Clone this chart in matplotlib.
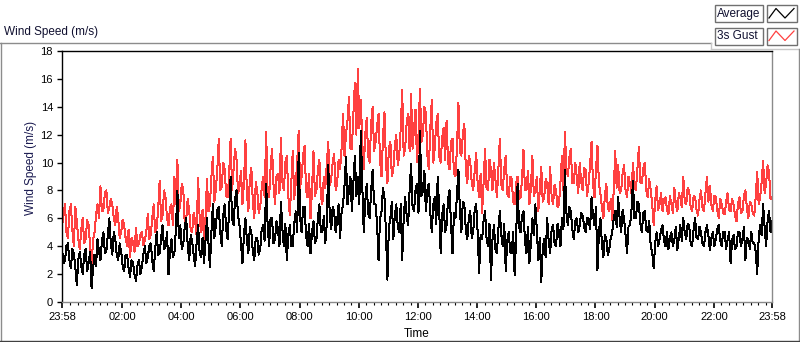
import numpy as np
import matplotlib
matplotlib.use('Agg')
import matplotlib.pyplot as plt
from matplotlib.lines import Line2D
from matplotlib.patches import Rectangle

# ---------------- data (3-minute samples from 23:58 to 23:58) ----------------
sample_minutes = 3

gust = [5.5, 6.2, 7.0, 5.0, 4.6, 6.5, 7.0, 5.2, 4.0, 6.8,
        5.8, 4.5, 3.8, 5.2, 6.0, 4.2, 4.5, 5.9, 5.5, 4.0,
        2.6, 4.5, 5.0, 6.2, 7.0, 6.0, 8.3, 6.5, 6.6, 7.8,
        8.0, 6.4, 6.8, 7.4, 7.0, 6.0, 5.5, 6.8, 6.0, 4.6,
        5.0, 5.9, 5.5, 4.6, 4.0, 5.2, 3.2, 4.6, 4.3, 3.6,
        5.3, 4.0, 4.2, 4.8, 5.0, 4.1, 4.4, 5.0, 6.3, 4.5,
        4.8, 6.0, 7.0, 5.0, 5.3, 6.6, 8.7, 5.8, 6.2, 8.0,
        7.5, 6.0, 5.5, 6.8, 7.0, 5.5, 9.0, 7.0, 10.2, 6.5,
        7.0, 8.5, 8.1, 5.5, 6.0, 7.4, 6.5, 5.2, 5.0, 6.4,
        5.8, 4.8, 8.9, 6.2, 5.0, 6.6, 4.4, 6.0, 8.8, 6.5,
        7.0, 9.0, 10.4, 7.2, 8.0, 9.5, 11.7, 8.0, 8.3, 10.0,
        9.5, 7.6, 7.5, 9.2, 11.7, 8.0, 9.5, 11.0, 10.2, 7.8,
        8.3, 9.4, 7.0, 8.5, 11.6, 7.8, 6.5, 8.8, 9.6, 7.2,
        6.0, 8.6, 8.0, 6.4, 6.8, 8.2, 9.0, 7.5, 12.2, 8.0,
        7.5, 9.6, 11.0, 8.4, 7.0, 9.0, 9.2, 7.8, 11.8, 8.6,
        8.0, 10.0, 10.5, 7.6, 6.2, 8.5, 10.8, 7.4, 8.5, 10.0,
        12.3, 8.2, 9.0, 10.5, 11.2, 8.0, 7.5, 9.2, 6.0, 8.0,
        10.8, 7.6, 8.0, 9.5, 10.2, 7.6, 7.0, 9.0, 8.2, 9.8,
        11.5, 8.4, 8.8, 10.0, 10.6, 8.0, 8.5, 10.2, 9.5, 11.0,
        13.5, 10.5, 12.0, 13.0, 14.7, 11.0, 11.0, 13.5, 15.7, 12.0,
        16.7, 12.5, 14.5, 11.5, 9.5, 12.0, 13.2, 10.5, 10.0, 12.8,
        14.0, 10.8, 11.5, 12.6, 13.5, 10.2, 9.0, 11.8, 13.6, 10.0,
        8.5, 11.0, 11.5, 9.0, 9.5, 11.2, 12.0, 9.8, 10.5, 12.5,
        15.2, 10.5, 11.0, 12.8, 13.5, 10.8, 14.9, 11.0, 12.5, 13.8,
        10.0, 12.0, 15.3, 11.5, 12.0, 14.0, 13.5, 10.5, 9.5, 12.5,
        14.5, 10.0, 11.0, 12.8, 13.5, 10.5, 10.0, 11.8, 12.5, 10.2,
        13.0, 10.0, 9.5, 11.5, 11.7, 9.2, 9.0, 11.0, 14.3, 10.8,
        10.5, 12.0, 12.8, 9.5, 8.5, 10.5, 10.0, 8.6, 8.0, 9.4,
        10.7, 8.5, 7.5, 9.2, 6.4, 8.5, 11.0, 8.2, 8.0, 10.2,
        9.5, 8.0, 10.0, 8.8, 7.5, 9.5, 11.7, 8.4, 8.0, 9.6,
        10.5, 7.8, 7.5, 9.0, 8.8, 7.2, 7.0, 8.5, 9.0, 7.4,
        7.5, 8.8, 10.9, 8.0, 8.0, 9.4, 7.0, 8.2, 10.5, 7.6,
        8.0, 9.0, 6.5, 8.0, 9.7, 7.2, 7.5, 8.8, 8.5, 7.0,
        9.7, 7.6, 7.0, 8.4, 8.0, 6.8, 7.0, 8.6, 10.5, 8.0,
        12.2, 9.5, 9.0, 10.4, 11.0, 8.5, 8.5, 10.0, 9.0, 7.8,
        10.0, 8.6, 8.0, 9.6, 9.5, 7.6, 8.5, 9.8, 11.5, 8.4,
        7.5, 9.5, 11.2, 8.5, 7.8, 6.8, 6.0, 7.6, 8.5, 6.8,
        6.5, 7.4, 5.9, 8.0, 10.8, 8.2, 9.8, 7.8, 8.0, 9.2,
        9.8, 8.0, 7.5, 9.0, 8.5, 7.8, 10.0, 8.2, 8.0, 9.5,
        11.1, 8.6, 8.5, 9.6, 10.0, 8.0, 7.5, 8.8, 8.0, 7.0,
        5.5, 7.2, 8.3, 6.6, 7.0, 7.8, 6.5, 7.4, 7.5, 6.6,
        6.3, 7.6, 7.0, 6.4, 8.2, 7.0, 6.5, 7.8, 7.5, 6.8,
        9.0, 7.2, 7.0, 8.2, 8.0, 6.8, 6.5, 7.6, 7.5, 6.6,
        6.2, 7.4, 8.0, 6.8, 6.5, 7.8, 9.0, 7.2, 8.3, 7.0,
        6.5, 7.6, 7.5, 6.6, 6.0, 7.4, 7.0, 6.4, 6.3, 7.2,
        7.8, 6.6, 6.5, 7.4, 7.0, 6.2, 5.8, 7.0, 7.5, 6.4,
        6.5, 7.6, 8.0, 6.8, 6.0, 7.2, 7.0, 6.4, 6.2, 7.6,
        9.3, 7.0, 7.5, 8.6, 10.1, 7.8, 8.5, 9.8, 9.3, 7.4,
        7.5]

average = [3.8, 2.8, 3.0, 4.0, 4.2, 3.0, 2.4, 3.8, 3.5, 2.5,
           1.2, 3.0, 3.6, 2.6, 2.0, 3.4, 3.8, 2.2, 2.8, 3.6,
           1.0, 2.4, 3.4, 2.6, 4.5, 3.6, 3.0, 4.4, 5.0, 3.5,
           3.7, 4.8, 6.0, 4.2, 3.4, 5.0, 4.5, 3.4, 3.0, 4.2,
           3.6, 2.6, 2.2, 3.4, 3.4, 2.4, 1.8, 3.0, 2.8, 2.0,
           1.5, 2.6, 3.0, 2.0, 2.5, 3.4, 4.0, 2.8, 3.2, 4.0,
           4.2, 3.0, 2.2, 3.8, 5.0, 3.4, 3.5, 4.6, 5.5, 3.8,
           4.0, 5.0, 2.0, 3.6, 4.5, 3.2, 3.5, 5.2, 8.0, 4.6,
           5.5, 3.8, 4.2, 5.4, 6.0, 4.0, 3.0, 4.8, 4.3, 3.4,
           2.6, 4.2, 5.5, 3.6, 3.2, 4.6, 2.8, 4.4, 6.0, 4.2,
           2.5, 5.0, 7.0, 4.6, 5.5, 6.6, 6.8, 5.0, 4.0, 6.2,
           7.0, 5.2, 4.5, 6.6, 9.0, 6.0, 5.5, 7.4, 8.0, 6.2,
           5.5, 4.2, 2.8, 4.8, 6.0, 4.4, 3.5, 5.4, 5.0, 3.6,
           3.0, 4.6, 4.6, 3.4, 3.8, 5.2, 5.5, 4.4, 8.5, 5.6,
           4.0, 6.0, 6.0, 4.2, 4.5, 5.8, 5.2, 4.0, 7.2, 5.2,
           4.0, 5.6, 3.0, 4.8, 5.5, 4.0, 4.0, 5.6, 6.5, 5.0,
           10.7, 6.0, 5.0, 6.8, 6.8, 4.8, 4.0, 5.6, 3.5, 5.0,
           5.8, 4.2, 4.5, 6.0, 7.0, 5.0, 5.0, 6.2, 4.2, 5.6,
           9.8, 6.2, 5.2, 6.8, 6.5, 5.0, 5.8, 7.0, 4.6, 6.4,
           7.0, 8.4, 10.4, 7.0, 8.0, 9.0, 6.5, 8.6, 10.5, 7.6,
           9.0, 7.0, 12.3, 8.4, 5.0, 7.2, 8.5, 6.4, 6.0, 8.0,
           9.5, 7.0, 7.0, 5.6, 3.0, 6.0, 6.5, 8.2, 7.5, 5.0,
           1.6, 5.4, 6.0, 7.2, 4.5, 6.2, 7.0, 5.4, 5.0, 7.0,
           3.0, 6.0, 7.5, 6.2, 5.5, 8.0, 9.9, 6.8, 6.5, 8.0,
           8.5, 6.4, 12.3, 7.6, 8.0, 9.4, 6.5, 8.0, 8.5, 6.4,
           5.0, 7.0, 7.5, 5.6, 9.0, 6.6, 3.5, 6.2, 7.0, 5.0,
           5.5, 7.4, 8.0, 5.6, 3.5, 6.4, 6.0, 7.6, 9.5, 6.6,
           5.0, 7.2, 7.0, 5.2, 4.5, 6.0, 6.5, 4.6, 5.0, 6.6,
           7.0, 5.0, 2.1, 4.8, 4.5, 5.8, 6.5, 4.6, 4.0, 5.6,
           1.6, 4.4, 5.5, 3.8, 3.5, 5.2, 6.5, 4.8, 4.0, 5.6,
           2.2, 4.4, 5.0, 3.6, 3.5, 5.0, 1.9, 4.6, 8.5, 5.4,
           5.0, 6.2, 6.5, 4.4, 3.5, 5.4, 2.8, 4.2, 6.0, 4.8,
           7.0, 5.2, 3.0, 4.6, 1.4, 3.8, 4.5, 3.2, 6.0, 4.4,
           3.5, 5.2, 5.5, 4.2, 4.0, 5.6, 5.0, 4.0, 6.0, 5.2,
           9.5, 6.4, 5.5, 6.8, 6.5, 5.2, 4.5, 5.8, 6.0, 5.0,
           5.5, 6.4, 6.2, 5.4, 5.0, 6.0, 6.0, 5.2, 7.5, 6.2,
           5.5, 6.8, 2.3, 5.0, 6.0, 4.2, 3.2, 4.8, 4.5, 3.4,
           3.8, 4.6, 5.0, 6.0, 6.5, 5.4, 7.5, 6.0, 5.0, 6.6,
           6.0, 4.8, 3.5, 5.4, 5.5, 6.6, 8.7, 6.0, 6.0, 7.2,
           7.0, 5.6, 5.0, 6.4, 6.5, 5.2, 5.0, 5.8, 4.0, 3.6,
           2.4, 4.2, 5.0, 4.0, 4.5, 5.2, 5.5, 4.4, 4.0, 5.0,
           3.8, 4.6, 5.0, 4.0, 4.5, 5.4, 3.7, 4.6, 5.5, 4.4,
           6.0, 5.0, 4.5, 5.6, 5.5, 4.2, 4.0, 5.2, 6.0, 4.6,
           4.5, 5.4, 5.0, 4.2, 4.0, 5.0, 5.5, 4.8, 3.7, 4.6,
           5.0, 4.0, 4.5, 5.2, 5.5, 4.4, 4.0, 5.0, 5.0, 3.8,
           4.5, 5.0, 2.8, 4.4, 4.8, 3.8, 4.0, 5.0, 5.0, 4.0,
           4.5, 5.4, 3.0, 4.6, 4.5, 3.8, 5.0, 4.2, 4.2, 3.6,
           2.0, 4.6, 5.5, 4.8, 7.0, 5.4, 4.0, 5.8, 6.5, 5.0,
           5.8]

x_tick_minutes = [0, 122, 242, 362, 482, 602, 722, 842, 962, 1082, 1202, 1322, 1440]
x_tick_labels = ['23:58', '02:00', '04:00', '06:00', '08:00', '10:00', '12:00',
                 '14:00', '16:00', '18:00', '20:00', '22:00', '23:58']
y_ticks = [0, 2, 4, 6, 8, 10, 12, 14, 16, 18]
series_names = ['Average', '3s Gust']

# ---------------- figure ----------------
W, H = 800, 342
plt.rcParams['font.family'] = ['Liberation Sans', 'DejaVu Sans']
fig = plt.figure(figsize=(W / 100, H / 100), dpi=100)
fig.patch.set_facecolor('white')

def fx(x):
    return x / W

def fy(y):
    return 1 - y / H

RED = '#ff4040'
ax = fig.add_axes([fx(62), fy(302), 710 / W, 251 / H])
t = np.arange(len(gust)) * sample_minutes
ax.plot(t, gust, color=RED, lw=0.72, antialiased=False)
ax.plot(t, average, color='black', lw=0.72, antialiased=False)
ax.set_xlim(0, 1440)
ax.set_ylim(0, 18)

ax.set_yticks(y_ticks)
ax.set_yticklabels([str(v) for v in y_ticks])
ax.set_xticks(x_tick_minutes)
ax.set_xticklabels(x_tick_labels)
minor = [m for m in range(2, 1441, 15) if all(abs(m - k) > 3 for k in x_tick_minutes)]
ax.set_xticks(minor, minor=True)
ax.tick_params(axis='y', direction='out', length=3.5, width=1, pad=3, labelsize=8, colors='black')
ax.tick_params(axis='x', which='major', direction='out', length=4.5, width=1.2, pad=3, labelsize=8)
ax.tick_params(axis='x', which='minor', direction='out', length=2.5, width=0.8)
for s in ['top', 'left']:
    ax.spines[s].set_color('black')
for s in ['bottom', 'right']:
    ax.spines[s].set_color('#8a8a8a')
for s in ax.spines.values():
    s.set_linewidth(1.0)

fig.text(fx(4), fy(32), 'Wind Speed (m/s)', ha='left', va='center', fontsize=8.5, color='#101030')
fig.text(fx(31), fy(168), 'Wind Speed (m/s)', rotation=90, ha='center', va='center',
         fontsize=8.5, color='#1a1a50')
fig.text(fx(417), fy(334), 'Time', ha='center', va='center', fontsize=8.5, color='black')

# outer frame
def fline(x0, y0, x1, y1, color, lw=1.0):
    fig.add_artist(Line2D([fx(x0), fx(x1)], [fy(y0), fy(y1)], color=color, lw=lw,
                          transform=fig.transFigure))

fline(0, 42.5, 711, 42.5, '#8c8c8c')
fline(711, 42.5, 711, 49, '#c8c8c8')
fline(711, 49, 800, 49, '#c8c8c8')
fline(0.5, 42.5, 0.5, 341, '#8c8c8c')
fline(798.5, 49, 798.5, 341, '#8c8c8c')
fline(0, 340.5, 800, 340.5, '#404040')

# legend
for k, (name, col) in enumerate(zip(series_names, ['black', RED])):
    top = 5 + k * 22.5
    fig.add_artist(Rectangle((fx(714.5), fy(top + 17)), 48 / W, 17 / H, transform=fig.transFigure,
                             facecolor='white', edgecolor='#707070', lw=1.0))
    fig.add_artist(Rectangle((fx(766.5), fy(top + 17)), 30 / W, 17 / H, transform=fig.transFigure,
                             facecolor='white', edgecolor='#707070', lw=1.0))
    fig.text(fx(717), fy(top + 8.5), name, ha='left', va='center', fontsize=8.5, color='#101030')
    xs = [769, 776, 785, 794]
    ys = [top + 13, top + 3.5, top + 13, top + 3.5]
    fig.add_artist(Line2D([fx(v) for v in xs], [fy(v) for v in ys], color=col, lw=0.9,
                          transform=fig.transFigure))

fig.savefig('out.png', dpi=100)
